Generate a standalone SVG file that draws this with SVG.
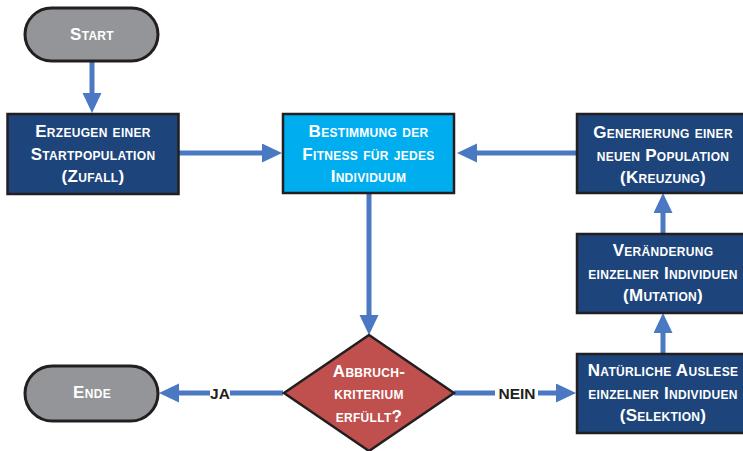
<svg xmlns="http://www.w3.org/2000/svg" width="743" height="451" viewBox="0 0 743 451">
<style>
.box{stroke:#231f20;stroke-width:2.5}
.dark{fill:#1e457b}
.cyan{fill:#00aeef}
.term{fill:#939598;stroke:#231f20;stroke-width:3}
.dec{fill:#c0504d;stroke:#231f20;stroke-width:2.5}
.t{font-family:"Liberation Sans",Arial,sans-serif;font-weight:bold;font-size:17px;font-variant:small-caps;fill:#fff;text-anchor:middle;letter-spacing:0.3px}
.c{stroke:#4a78c2;stroke-width:5;fill:none}
.lbl{font-family:"Liberation Sans",Arial,sans-serif;font-weight:bold;font-size:15.5px;fill:#231f20;text-anchor:middle}
</style>
<defs>
<marker id="ah" markerUnits="userSpaceOnUse" markerWidth="20" markerHeight="20" refX="0" refY="9.5" orient="auto">
<path d="M0,0 L20,9.5 L0,19 Z" fill="#4a78c2"/>
</marker>
</defs>
<g id="connectors">
<path class="c" d="M92,61 V93" marker-end="url(#ah)"/>
<path class="c" d="M179,153 H262" marker-end="url(#ah)"/>
<path class="c" d="M576,153 H477" marker-end="url(#ah)"/>
<path class="c" d="M369,193 V315" marker-end="url(#ah)"/>
<path class="c" d="M663,353 V333" marker-end="url(#ah)"/>
<path class="c" d="M663,233 V213" marker-end="url(#ah)"/>
<path class="c" d="M454,393 H556" marker-end="url(#ah)"/>
<path class="c" d="M283,393 H179" marker-end="url(#ah)"/>
<rect x="495" y="383" width="43" height="20" fill="#fff"/>
<text class="lbl" x="517" y="399">NEIN</text>
<rect x="210" y="383" width="20" height="20" fill="#fff"/>
<text class="lbl" x="220" y="399">JA</text>
</g>
<g id="start">
<rect class="term" x="25" y="8" width="133" height="53" rx="26.5"/>
<text class="t" x="92" y="40">Start</text>
</g>
<g id="erzeugen">
<rect class="box dark" x="7.5" y="114" width="171" height="80"/>
<text class="t" x="93" y="137">Erzeugen einer</text>
<text class="t" x="93" y="159.5">Startpopulation</text>
<text class="t" x="93" y="182">(Zufall)</text>
</g>
<g id="bestimmung">
<rect class="box cyan" x="283" y="114" width="171" height="79"/>
<text class="t" x="368.5" y="137">Bestimmung der</text>
<text class="t" x="368.5" y="159.5">Fitness für jedes</text>
<text class="t" x="368.5" y="182">Individuum</text>
</g>
<g id="generierung">
<rect class="box dark" x="577" y="114" width="173" height="79"/>
<text class="t" x="663" y="138">Generierung einer</text>
<text class="t" x="663" y="160.5">neuen Population</text>
<text class="t" x="663" y="183">(Kreuzung)</text>
</g>
<g id="veraenderung">
<rect class="box dark" x="577" y="234" width="173" height="79"/>
<text class="t" x="663" y="256">Veränderung</text>
<text class="t" x="663" y="278.5">einzelner Individuen</text>
<text class="t" x="663" y="301">(Mutation)</text>
</g>
<g id="natuerliche">
<rect class="box dark" x="577" y="354" width="173" height="79"/>
<text class="t" x="663" y="376">Natürliche Auslese</text>
<text class="t" x="663" y="398.5">einzelner Individuen</text>
<text class="t" x="663" y="421">(Selektion)</text>
</g>
<g id="abbruch">
<polygon class="dec" points="369,335 454,393 369,451 284,393"/>
<text class="t" x="369" y="377">Abbruch-</text>
<text class="t" x="369" y="399">kriterium</text>
<text class="t" x="369" y="422">erfüllt?</text>
</g>
<g id="ende">
<rect class="term" x="25" y="366" width="133" height="55" rx="27.5"/>
<text class="t" x="92" y="398">Ende</text>
</g>
</svg>
